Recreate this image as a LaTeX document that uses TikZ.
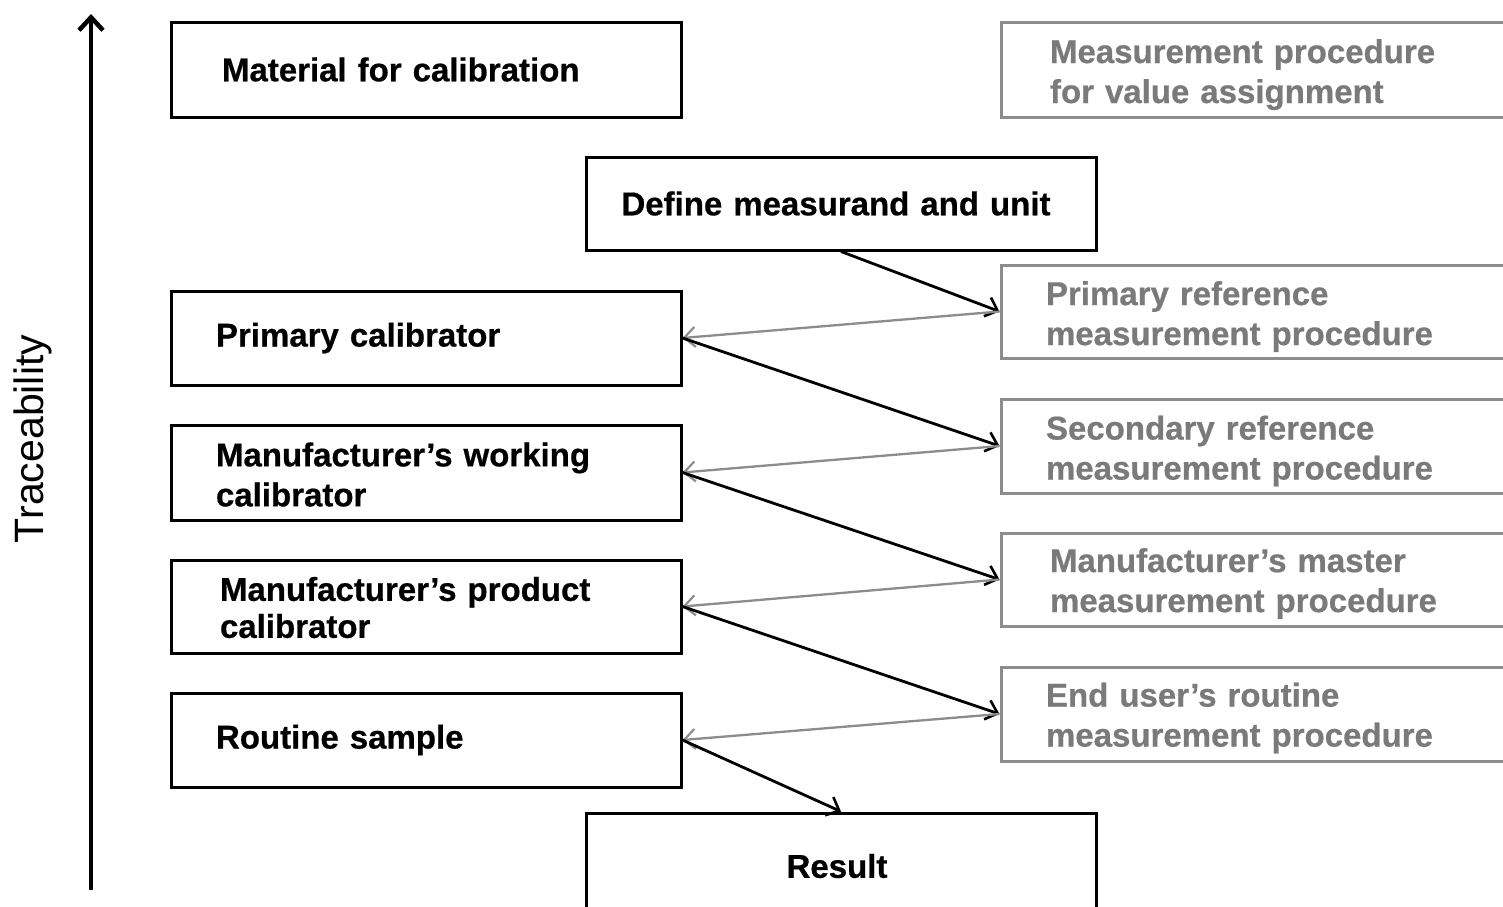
\documentclass[tikz,border=0pt]{standalone}
\usepackage{fontspec}
\setmainfont{Liberation Sans}[BoldFeatures={FakeBold=0.6}]
\usetikzlibrary{arrows.meta}
\definecolor{boxgray}{HTML}{8C8C8C}
\definecolor{textgray}{HTML}{7A7A7A}
% strut that lowers a two-line label inside its box
\newcommand{\lowerby}[1]{\rule{0pt}{#1}}
\begin{document}
\begin{tikzpicture}[x=1pt,y=-1pt,
  basebox/.style={rectangle, minimum width=510, text width=420, align=left,
    inner xsep=0pt, inner ysep=0pt, line width=3pt,
    font=\fontsize{33}{40}\selectfont\bfseries},
  calbox/.style={basebox, draw=black, text=black},
  procbox/.style={basebox, draw=boxgray, text=textgray},
  midbox/.style={calbox, text width=480, align=center},
  fwd/.style={line width=2.8pt, draw=black, -{Straight Barb[length=11pt,width=20pt,line width=2.6pt]}},
  back/.style={line width=2.3pt, draw=boxgray, -{Straight Barb[length=11pt,width=20pt,line width=2.2pt]}}]
\clip (0,0) rectangle (1503,906);

% traceability axis
\coordinate (axbot) at (91,890);
\coordinate (axtop) at (91,14);
\draw[line width=4pt, -{Straight Barb[length=13pt,width=24pt,line width=4.5pt]}] (axbot) -- (axtop);
\node[rotate=90, font=\fontsize{41}{48}\selectfont] (trace) at (33,439) {Traceability};

% materials / calibrators (left column)
\node[calbox, minimum height=95] (mat)  at (426,69.5) {\hspace*{6pt}Material for calibration};
\node[calbox, minimum height=94] (prim) at (426,338) {Primary calibrator};
\node[calbox, minimum height=95] (work) at (426,472.5) {\lowerby{28pt}Manufacturer’s working\\calibrator};
\node[calbox, minimum height=93, font=\fontsize{33}{37}\selectfont\bfseries] (prod) at (426,606.5) {\lowerby{26pt}\hspace*{4pt}Manufacturer’s product\\\hspace*{4pt}calibrator};
\node[calbox, minimum height=94] (rout) at (426,740) {Routine sample};

% middle column
\node[midbox, minimum height=93] (def) at (841,203.5) {\hspace*{-10pt}Define measurand and unit};
\node[midbox, minimum height=106] (res) at (841,866) {\hspace*{-8pt}Result};

% measurement procedures (right column)
\node[procbox, minimum height=95] (va)   at (1256,69.5) {\lowerby{34pt}\hspace*{4pt}Measurement procedure\\\hspace*{4pt}for value assignment};
\node[procbox, minimum height=93] (pref) at (1256,311.5) {\lowerby{34pt}Primary reference\\measurement procedure};
\node[procbox, minimum height=94] (sref) at (1256,446) {\lowerby{34pt}Secondary reference\\measurement procedure};
\node[procbox, minimum height=93] (mast) at (1256,579.5) {\lowerby{32pt}\hspace*{4pt}Manufacturer’s master\\\hspace*{4pt}measurement procedure};
\node[procbox, minimum height=94] (user) at (1256,714) {\lowerby{32pt}End user’s routine\\measurement procedure};

% chain of calibrations
\draw[fwd] (def.south) -- (pref.west);
\draw[back] (pref.west) -- (prim.east);
\draw[fwd] (prim.east) -- (sref.west);
\draw[back] (sref.west) -- (work.east);
\draw[fwd] (work.east) -- (mast.west);
\draw[back] (mast.west) -- (prod.east);
\draw[fwd] (prod.east) -- (user.west);
\draw[back] (user.west) -- (rout.east);
\draw[fwd] (rout.east) -- (res.north);
\end{tikzpicture}
\end{document}
